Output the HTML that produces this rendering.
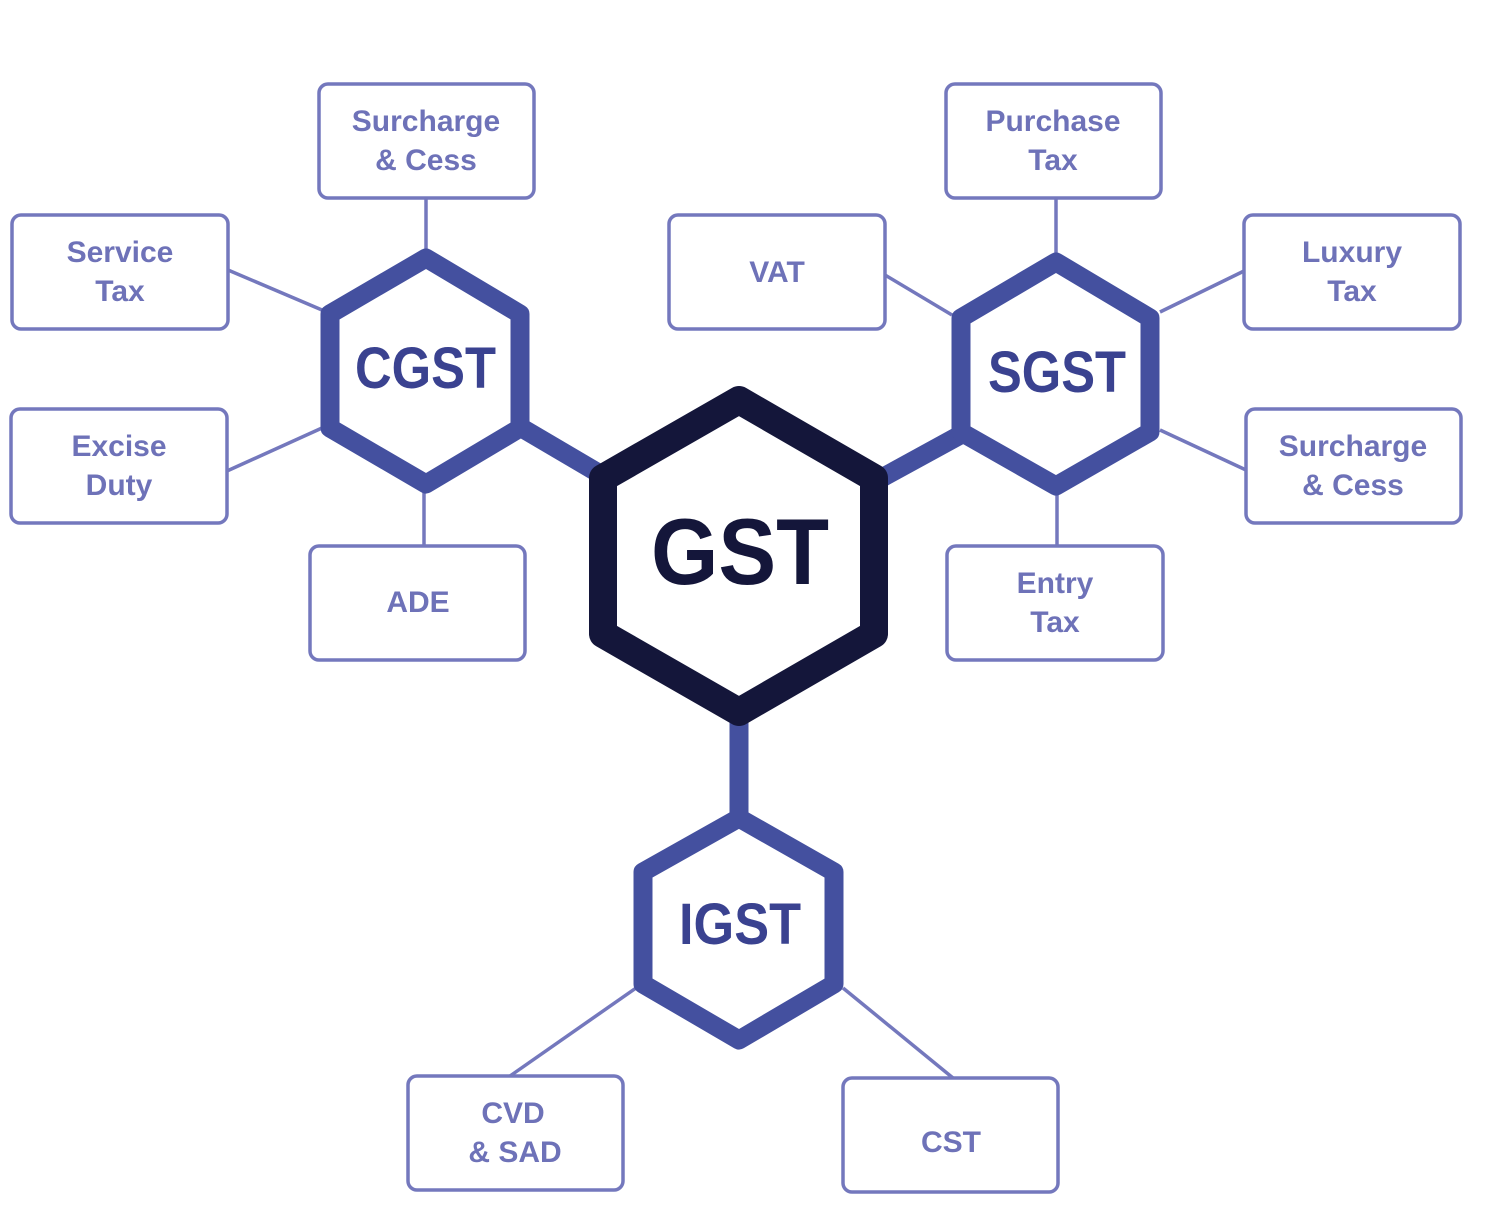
<!DOCTYPE html>
<html><head><meta charset="utf-8"><style>
html,body{margin:0;padding:0;background:#fff;}
svg{display:block;}
.b{fill:#fff;stroke:#7478bd;stroke-width:3.5;}
.l{stroke:#7478bd;stroke-width:3.5;fill:none;}
.t{font-family:"Liberation Sans",sans-serif;font-weight:bold;font-size:30px;fill:#6e72b8;text-anchor:middle;}
.h{fill:#fff;stroke:#44509f;stroke-width:19;stroke-linejoin:round;}
.ht{font-family:"Liberation Sans",sans-serif;font-weight:bold;font-size:58px;fill:#3a4290;}
</style></head><body>
<svg width="1486" height="1208" viewBox="0 0 1486 1208" xmlns="http://www.w3.org/2000/svg">
<line class="l" x1="426" y1="198" x2="426" y2="255"/>
<line class="l" x1="228" y1="270" x2="322" y2="310"/>
<line class="l" x1="227" y1="471" x2="322" y2="428"/>
<line class="l" x1="424" y1="487" x2="424" y2="546"/>
<line class="l" x1="1056" y1="198" x2="1056" y2="259"/>
<line class="l" x1="885" y1="275" x2="952" y2="315"/>
<line class="l" x1="1244" y1="271" x2="1160" y2="312"/>
<line class="l" x1="1246" y1="470" x2="1160" y2="430"/>
<line class="l" x1="1057" y1="489" x2="1057" y2="546"/>
<line class="l" x1="636" y1="988" x2="510" y2="1076"/>
<line class="l" x1="843" y1="988" x2="953" y2="1078"/>
<line x1="515" y1="424" x2="600" y2="474" stroke="#44509f" stroke-width="19"/>
<line x1="962" y1="434" x2="878" y2="480" stroke="#44509f" stroke-width="19"/>
<line x1="739" y1="715" x2="739" y2="815" stroke="#44509f" stroke-width="19"/>
<polygon class="h" points="426,258 520,314 520,428 426,484 330,428 330,314"/>
<text class="ht" x="355" y="388" textLength="141" lengthAdjust="spacingAndGlyphs">CGST</text>
<polygon class="h" points="1056,262 1150,318 1150,432 1056,486 961,432 961,318"/>
<text class="ht" x="988" y="392" textLength="138" lengthAdjust="spacingAndGlyphs">SGST</text>
<polygon class="h" points="739,818 834,872 834,984 739,1040 643,984 643,872"/>
<text class="ht" x="679" y="944" textLength="122" lengthAdjust="spacingAndGlyphs">IGST</text>
<polygon points="739,400 874,478 874,634 739,712 603,634 603,478" fill="#fff" stroke="#14163a" stroke-width="28" stroke-linejoin="round"/>
<text x="651" y="584" font-family="Liberation Sans,sans-serif" font-weight="bold" font-size="94" fill="#14163a" textLength="178" lengthAdjust="spacingAndGlyphs">GST</text>
<rect class="b" x="319" y="84" width="215" height="114" rx="9"/>
<text class="t" x="426" y="131">Surcharge</text><text class="t" x="426" y="170">&amp; Cess</text>
<rect class="b" x="12" y="215" width="216" height="114" rx="9"/>
<text class="t" x="120" y="262">Service</text><text class="t" x="120" y="301">Tax</text>
<rect class="b" x="11" y="409" width="216" height="114" rx="9"/>
<text class="t" x="119" y="456">Excise</text><text class="t" x="119" y="495">Duty</text>
<rect class="b" x="310" y="546" width="215" height="114" rx="9"/>
<text class="t" x="418" y="612">ADE</text>
<rect class="b" x="946" y="84" width="215" height="114" rx="9"/>
<text class="t" x="1053" y="131">Purchase</text><text class="t" x="1053" y="170">Tax</text>
<rect class="b" x="669" y="215" width="216" height="114" rx="9"/>
<text class="t" x="777" y="282">VAT</text>
<rect class="b" x="1244" y="215" width="216" height="114" rx="9"/>
<text class="t" x="1352" y="262">Luxury</text><text class="t" x="1352" y="301">Tax</text>
<rect class="b" x="1246" y="409" width="215" height="114" rx="9"/>
<text class="t" x="1353" y="456">Surcharge</text><text class="t" x="1353" y="495">&amp; Cess</text>
<rect class="b" x="947" y="546" width="216" height="114" rx="9"/>
<text class="t" x="1055" y="593">Entry</text><text class="t" x="1055" y="632">Tax</text>
<rect class="b" x="408" y="1076" width="215" height="114" rx="9"/>
<text class="t" x="513" y="1123">CVD</text><text class="t" x="515" y="1162">&amp; SAD</text>
<rect class="b" x="843" y="1078" width="215" height="114" rx="9"/>
<text class="t" x="951" y="1152">CST</text>
</svg>
</body></html>
